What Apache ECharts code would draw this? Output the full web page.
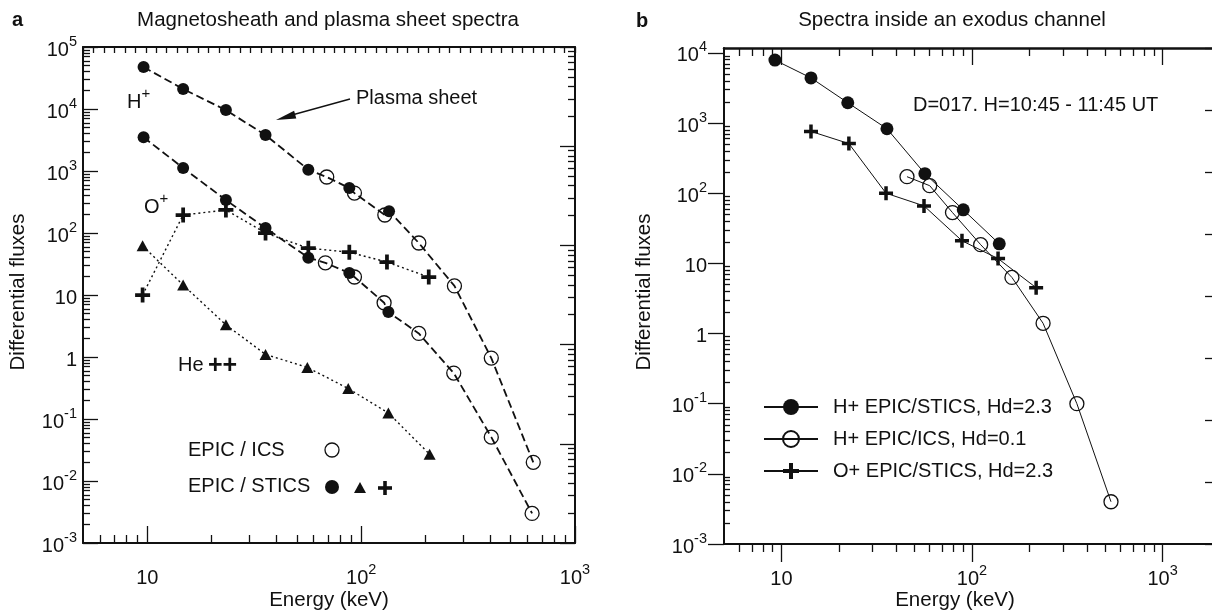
<!DOCTYPE html>
<html><head><meta charset="utf-8">
<script src="https://cdn.jsdelivr.net/npm/echarts@6/dist/echarts.min.js"></script>
<style>html,body{margin:0;padding:0;background:#fff}#c{width:1212px;height:612px}</style>
</head><body><div id="c"></div>
<script>
// ---------- Panel a : Magnetosheath and plasma sheet spectra ----------
const aSheetSticsE = [9.6, 14.7, 23.3, 35.7, 56.6, 88, 135];
const aSheetSticsF = [47500, 21000, 9600, 3800, 1050, 530, 225];
const aSheetIcsE   = [69, 93, 129, 186, 273, 406, 638];
const aSheetIcsF   = [800, 440, 195, 69, 14, 0.96, 0.020];
const aMagSticsE   = [9.6, 14.7, 23.3, 35.7, 56.6, 88, 134];
const aMagSticsF   = [3500, 1120, 340, 120, 40, 22.6, 5.3];
const aMagIcsE     = [68, 93, 128, 186, 271, 406, 630];
const aMagIcsF     = [33, 19.5, 7.5, 2.4, 0.55, 0.051, 0.003];
const aOxyE        = [9.5, 14.7, 23.3, 35.7, 56.6, 88, 132, 207];
const aOxyF        = [10, 195, 235, 100, 57, 49, 34, 19.5];
const aHeE         = [9.5, 14.7, 23.3, 35.7, 56, 87, 134, 209];
const aHeF         = [62, 14.5, 3.3, 1.1, 0.68, 0.31, 0.125, 0.027];
// ---------- Panel b : Spectra inside an exodus channel ----------
const bHSticsE = [9.25, 14.3, 22.3, 35.8, 56.6, 90, 139];
const bHSticsF = [7900, 4400, 1950, 830, 190, 58, 19];
const bHIcsE   = [45.6, 60, 79, 111, 162, 236, 355, 536];
const bHIcsF   = [172, 128, 53, 18.5, 6.3, 1.4, 0.1, 0.004];
const bOSticsE = [14.3, 22.6, 35.4, 56, 88.6, 137, 217];
const bOSticsF = [760, 510, 100, 66, 21, 11.7, 4.5];
const legendNames = ['H+ EPIC/STICS, Hd=2.3', 'H+ EPIC/ICS, Hd=0.1', 'O+ EPIC/STICS, Hd=2.3'];
// ---------- tick labels (decade exponents) ----------
const xDecadeExp = [1, 2, 3];
const yDecadeExpA = [-3, -2, -1, 0, 1, 2, 3, 4, 5];
const yDecadeExpB = [-3, -2, -1, 0, 1, 2, 3, 4];
const minorMult = [2, 3, 4, 5, 6, 7, 8, 9];

const L = Math.log10;
const FF = '"Liberation Sans", Arial, Helvetica, sans-serif';
const K = '#111';
const zip = (e, f) => e.map((x, i) => [x, f[i]]);
const byE = arr => arr.slice().sort((p, q) => p[0] - q[0]);
function minors(lo, hi) {
  const out = [];
  for (let k = Math.floor(lo) - 1; k <= Math.ceil(hi); k++)
    for (const m of minorMult) { const v = k + L(m); if (v > lo + 1e-9 && v < hi - 1e-9) out.push(v); }
  return out;
}
function expLabel(v) {
  const n = Math.round(v);
  if (n === 0) return '{b|1}';
  if (n === 1) return '{b|10}';
  return '{b|10}{s|' + n + '}';
}
const rich = {
  b: { fontSize: 20, lineHeight: 26, verticalAlign: 'bottom', fontFamily: FF, color: K },
  s: { fontSize: 14.5, lineHeight: 14, verticalAlign: 'top', fontFamily: FF, color: K }
};
function deco(o) {
  return {
    type: 'value', gridIndex: o.grid, min: o.min, max: o.max, position: o.pos,
    interval: o.interval, silent: true, z: 5,
    splitLine: { show: false },
    axisLine: { show: !!o.line, onZero: false, lineStyle: { color: K, width: o.lineWidth || 2 } },
    axisTick: o.ticks ? Object.assign({ show: true, inside: o.inside !== false, length: o.len, lineStyle: { color: K, width: 1.3 } },
      o.ticks === 'auto' ? {} : { customValues: o.ticks }) : { show: false },
    axisLabel: o.labels ? { show: true, customValues: o.labels, margin: o.margin, formatter: expLabel, rich: rich } : { show: false }
  };
}
function dataAxis(grid, min, max) {
  return { type: 'log', logBase: 10, gridIndex: grid, min: min, max: max, show: false,
    axisLine: { onZero: false }, splitLine: { show: false } };
}
const xAmin = 5, xAmax = 1000, yAmin = 1e-3, yAmax = 1e5;
const xBmin = 5, xBmax = 2000, yBmin = 1e-3, yBmax = 11750;

const xAxis = [
  dataAxis(0, xAmin, xAmax),                                                                                   // 0
  deco({ grid: 0, min: L(xAmin), max: L(xAmax), pos: 'bottom', line: true, ticks: xDecadeExp, len: 17, labels: xDecadeExp, margin: 19 }), // 1
  deco({ grid: 0, min: L(xAmin), max: L(xAmax), pos: 'bottom', ticks: minors(L(xAmin), L(xAmax)), len: 8 }),     // 2
  deco({ grid: 0, min: 0, max: 47, interval: 1, pos: 'top', line: true, ticks: 'auto', len: 6 }),                // 3
  dataAxis(1, xBmin, xBmax),                                                                                   // 4
  deco({ grid: 1, min: L(xBmin), max: L(xBmax), pos: 'bottom', line: true, ticks: xDecadeExp, inside: false, len: 18, labels: xDecadeExp, margin: 19 }), // 5
  deco({ grid: 1, min: L(xBmin), max: L(xBmax), pos: 'bottom', ticks: minors(L(xBmin), L(xBmax)), inside: false, len: 8 }), // 6
  deco({ grid: 1, min: L(xBmin), max: L(xBmax), pos: 'top', line: true, lineWidth: 2.5, ticks: xDecadeExp, len: 17 }),      // 7
  deco({ grid: 1, min: L(xBmin), max: L(xBmax), pos: 'top', ticks: minors(L(xBmin), L(xBmax)), len: 8 })         // 8
];
const yAxis = [
  dataAxis(0, yAmin, yAmax),                                                                                   // 0
  deco({ grid: 0, min: L(yAmin), max: L(yAmax), pos: 'left', line: true, ticks: yDecadeExpA, len: 15, labels: yDecadeExpA, margin: 6 }), // 1
  deco({ grid: 0, min: L(yAmin), max: L(yAmax), pos: 'left', ticks: minors(L(yAmin), L(yAmax)), len: 7 }),       // 2
  deco({ grid: 0, min: 0, max: 5, pos: 'right', line: true, ticks: [0, 1, 2, 3, 4, 5], len: 15 }),              // 3
  deco({ grid: 0, min: 0, max: 5, pos: 'right', ticks: minors(0, 5), len: 7 }),                                 // 4
  dataAxis(1, yBmin, yBmax),                                                                                   // 5
  deco({ grid: 1, min: L(yBmin), max: L(yBmax), pos: 'left', line: true, ticks: yDecadeExpB, inside: false, len: 16, labels: yDecadeExpB, margin: 17 }), // 6
  deco({ grid: 1, min: L(yBmin), max: L(yBmax), pos: 'left', ticks: minors(L(yBmin), L(yBmax)), len: 6 }),       // 7
  deco({ grid: 1, min: -3, max: 5, interval: 1, pos: 'right', line: true, ticks: 'auto', len: 15 })             // 8
];

const CROSS = 'path://M3.75,0H6.25V3.75H10V6.25H6.25V10H3.75V6.25H0V3.75H3.75Z';
const openStyle = { color: 'rgba(0,0,0,0)', borderColor: K, borderWidth: 1.3, opacity: 1 };
const fillStyle = { color: K, opacity: 1 };
const A = { xAxisIndex: 0, yAxisIndex: 0 };
const B = { xAxisIndex: 4, yAxisIndex: 5 };
function dashLine(data) {
  return Object.assign({ type: 'line', data: data, symbol: 'none', silent: true, z: 2, animation: false,
    lineStyle: { color: K, width: 1.8, type: [8, 4] } }, A);
}
function scat(data, filled) {
  return Object.assign({ type: 'scatter', data: data, symbol: 'circle', symbolSize: filled ? 12 : 14, silent: true, z: 3,
    itemStyle: filled ? fillStyle : openStyle }, A);
}
const series = [
  dashLine(byE(zip(aSheetSticsE, aSheetSticsF).concat(zip(aSheetIcsE, aSheetIcsF)))),
  dashLine(byE(zip(aMagSticsE, aMagSticsF).concat(zip(aMagIcsE, aMagIcsF)))),
  scat(zip(aSheetIcsE, aSheetIcsF), false),
  scat(zip(aMagIcsE, aMagIcsF), false),
  scat(zip(aSheetSticsE, aSheetSticsF), true),
  scat(zip(aMagSticsE, aMagSticsF), true),
  Object.assign({ type: 'line', data: zip(aOxyE, aOxyF), symbol: CROSS, symbolSize: 15, showAllSymbol: true, silent: true, z: 3,
    itemStyle: fillStyle, lineStyle: { color: K, width: 1.4, type: [2, 3] } }, A),
  Object.assign({ type: 'line', data: zip(aHeE, aHeF), symbol: 'triangle', symbolSize: [12, 11], showAllSymbol: true, silent: true, z: 3,
    itemStyle: fillStyle, lineStyle: { color: K, width: 1.4, type: [2, 3] } }, A),
  Object.assign({ type: 'line', name: legendNames[0], data: zip(bHSticsE, bHSticsF), symbol: 'circle', symbolSize: 13, showAllSymbol: true, silent: true, z: 3,
    itemStyle: fillStyle, lineStyle: { color: K, width: 1 } }, B),
  Object.assign({ type: 'line', name: legendNames[1], data: zip(bHIcsE, bHIcsF), symbol: 'circle', symbolSize: 14, showAllSymbol: true, silent: true, z: 3,
    itemStyle: openStyle, lineStyle: { color: K, width: 1 } }, B),
  Object.assign({ type: 'line', name: legendNames[2], data: zip(bOSticsE, bOSticsF), symbol: CROSS, symbolSize: 14, showAllSymbol: true, silent: true, z: 3,
    itemStyle: fillStyle, lineStyle: { color: K, width: 1 } }, B)
];

function txt(x, y, text, o) {
  o = o || {};
  return { type: 'text', x: x, y: y, rotation: o.rot || 0, z: 10, silent: true,
    style: { text: text, font: (o.bold ? 'bold ' : '') + (o.size || 20) + 'px ' + FF, fill: K,
      align: o.align || 'left', textAlign: o.align || 'left', verticalAlign: 'middle', textVerticalAlign: 'middle', rich: o.rich } };
}
const supRich = { b: { fontSize: 20, lineHeight: 26, verticalAlign: 'bottom', fontFamily: FF, fill: K, color: K },
                  s: { fontSize: 15, lineHeight: 14, verticalAlign: 'top', fontFamily: FF, fill: K, color: K } };
const graphic = [
  txt(12, 20, 'a', { bold: true }),
  txt(636, 21, 'b', { bold: true }),
  txt(328, 20, 'Magnetosheath and plasma sheet spectra', { align: 'center', size: 20.5 }),
  txt(952, 20, 'Spectra inside an exodus channel', { align: 'center', size: 20.5 }),
  txt(18, 292, 'Differential fluxes', { align: 'center', rot: Math.PI / 2, size: 20.5 }),
  txt(644, 292, 'Differential fluxes', { align: 'center', rot: Math.PI / 2, size: 20.5 }),
  txt(329, 600, 'Energy (keV)', { align: 'center', size: 20.5 }),
  txt(955, 600, 'Energy (keV)', { align: 'center', size: 20.5 }),
  txt(127, 99, '{b|H}{s|+}', { rich: supRich }),
  txt(144, 204, '{b|O}{s|+}', { rich: supRich }),
  txt(356, 98, 'Plasma sheet'),
  { type: 'line', silent: true, z: 10, shape: { x1: 350, y1: 99, x2: 292, y2: 115 }, style: { stroke: K, lineWidth: 1.3 } },
  { type: 'polygon', silent: true, z: 10, shape: { points: [[276, 120], [296.3, 118.4], [294.1, 110.7]] }, style: { fill: K } },
  txt(178, 365, 'He'),
  txt(208, 366, '++', { bold: true, size: 25 }),
  txt(188, 450, 'EPIC / ICS'),
  txt(188, 486, 'EPIC / STICS'),
  { type: 'circle', silent: true, z: 10, shape: { cx: 332, cy: 450, r: 7 }, style: { fill: 'none', stroke: K, lineWidth: 1.3 } },
  { type: 'circle', silent: true, z: 10, shape: { cx: 332, cy: 487, r: 7 }, style: { fill: K } },
  { type: 'polygon', silent: true, z: 10, shape: { points: [[360, 482], [366, 493], [354, 493]] }, style: { fill: K } },
  { type: 'rect', silent: true, z: 10, shape: { x: 378, y: 486.2, width: 14, height: 3.6 }, style: { fill: K } },
  { type: 'rect', silent: true, z: 10, shape: { x: 383.2, y: 481, width: 3.6, height: 14 }, style: { fill: K } },
  txt(913, 105, 'D=017. H=10:45 - 11:45 UT')
];

const chart = echarts.init(document.getElementById('c'), null, { renderer: 'canvas' });
chart.setOption({
  animation: false,
  backgroundColor: '#fff',
  grid: [
    { left: 83, top: 47, width: 492, height: 496, containLabel: false, outerBoundsMode: 'none', show: false },
    { left: 724, top: 48, width: 496, height: 496, containLabel: false, outerBoundsMode: 'none', show: false }
  ],
  xAxis: xAxis,
  yAxis: yAxis,
  legend: {
    data: legendNames, orient: 'vertical', left: 763, top: 397, itemWidth: 54, itemHeight: 20, itemGap: 12,
    selectedMode: false, padding: 0,
    textStyle: { fontSize: 20, fontFamily: FF, color: K, padding: [0, 0, 0, 10] }
  },
  series: series,
  graphic: graphic
});
</script>
</body></html>
